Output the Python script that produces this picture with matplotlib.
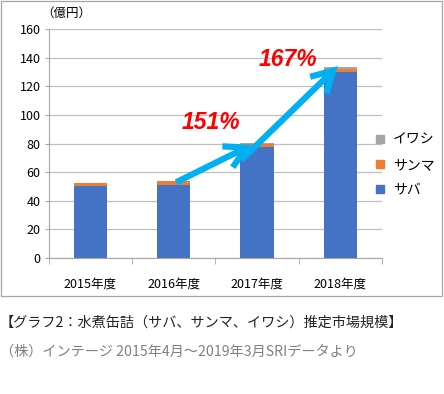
import matplotlib.pyplot as plt
from matplotlib.patches import FancyArrowPatch, Rectangle
from matplotlib.lines import Line2D

plt.rcParams['font.family'] = ['Noto Sans CJK JP', 'DejaVu Sans']

# data (億円)
years = ['2015年度', '2016年度', '2017年度', '2018年度']
saba = [50.5, 51.0, 77.8, 130.2]
sanma = [1.9, 2.6, 2.0, 1.9]
iwashi = [0.0, 0.3, 0.3, 1.4]
growth = ['151%', '167%']

blue = '#4472C4'
orange = '#ED7D31'
gray = '#A5A5A5'
arrow_c = '#00B0F0'

fig = plt.figure(figsize=(4.44, 3.94), dpi=100)
ax = fig.add_axes([0.110, 0.345, 0.750, 0.581])

x = range(len(years))
bot2 = [a + b for a, b in zip(saba, sanma)]
totals = [a + b for a, b in zip(bot2, iwashi)]
ax.bar(x, saba, width=0.4, color=blue, zorder=2)
ax.bar(x, sanma, width=0.4, bottom=saba, color=orange, zorder=2)
ax.bar(x, iwashi, width=0.4, bottom=bot2, color=gray, zorder=2)

ax.set_xlim(-0.5, 3.5)
ax.set_ylim(0, 160)
ax.set_yticks(range(0, 161, 20))
ax.set_xticks(list(x))
ax.set_xticklabels(years, fontsize=9)
ax.set_xticks([-0.5, 0.5, 1.5, 2.5, 3.5], minor=True)
ax.tick_params(axis='x', which='major', length=0, pad=14)
ax.tick_params(axis='x', which='minor', length=4, color='#A6A6A6')
ax.tick_params(axis='y', length=3, color='#A6A6A6', labelsize=9, pad=3)
ax.grid(axis='y', color='#BFBFBF', linewidth=0.9, zorder=0)
for s in ['top', 'right']:
    ax.spines[s].set_visible(False)
for s in ['left', 'bottom']:
    ax.spines[s].set_color('#A6A6A6')

fig.text(0.149, 0.965, '（億円）', fontsize=9, ha='center', va='center')

# growth arrows
style = '->,head_length=0.75,head_width=0.42'
arr1 = FancyArrowPatch((1.0, bot2[1] - 1.5), (1.97, totals[2]),
                       arrowstyle=style, mutation_scale=20, color=arrow_c,
                       lw=4.5, zorder=4, capstyle='butt', joinstyle='miter')
arr2 = FancyArrowPatch((1.79, 67.3), (2.995, totals[3] + 2.0),
                       arrowstyle=style, mutation_scale=20, color=arrow_c,
                       lw=4.5, zorder=4, capstyle='butt', joinstyle='miter')
ax.add_patch(arr1)
ax.add_patch(arr2)
ax.text(1.45, 94.5, growth[0], color='#FF0000', fontsize=16.5, fontweight='bold',
        fontstyle='italic', family='Liberation Sans', ha='center', va='center', zorder=5)
ax.text(2.37, 138.5, growth[1], color='#FF0000', fontsize=16.5, fontweight='bold',
        fontstyle='italic', family='Liberation Sans', ha='center', va='center', zorder=5)

# legend
handles = [Line2D([], [], marker='s', linestyle='', color=c, markersize=6)
           for c in [gray, orange, blue]]
fig.legend(handles, ['イワシ', 'サンマ', 'サバ'], loc='center left',
           bbox_to_anchor=(0.808, 0.582), frameon=False, fontsize=10,
           handletextpad=0.35, labelspacing=0.8, handlelength=1.2)

# chart border
fig.patches.append(Rectangle((0.002, 0.249), 0.993, 0.748, transform=fig.transFigure,
                             fill=False, edgecolor='#A6A6A6', lw=0.9))

fig.text(0.0, 0.180, '【グラフ2：水煮缶詰（サバ、サンマ、イワシ）推定市場規模】',
         fontsize=10.2, color='#222222', ha='left', va='center')
fig.text(0.0, 0.107, '（株）インテージ 2015年4月～2019年3月SRIデータより',
         fontsize=10.2, color='#808080', ha='left', va='center')

fig.savefig('out.png', dpi=100)
